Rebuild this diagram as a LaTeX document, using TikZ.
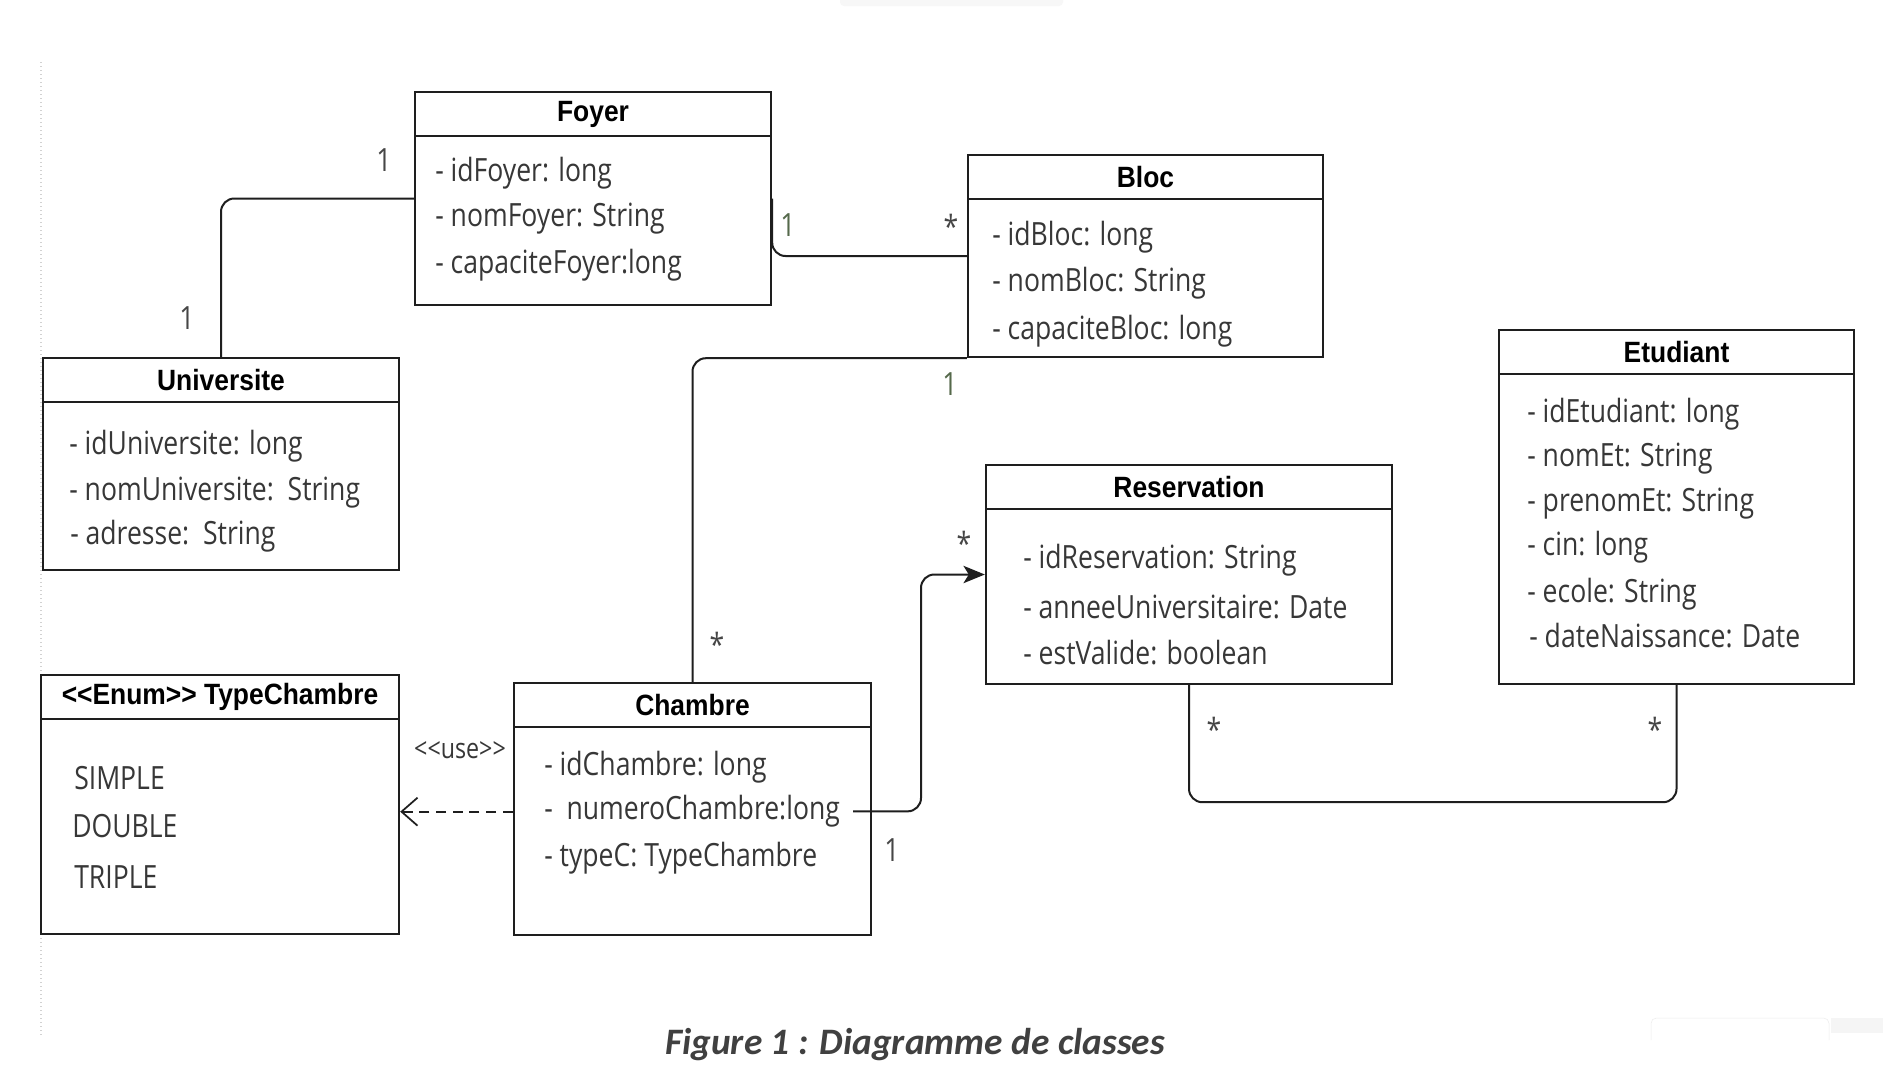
\documentclass[tikz,border=0pt]{standalone}
\usepackage{fontspec}
\usetikzlibrary{arrows.meta}
\newfontfamily\attrfont[FakeStretch=0.83]{Open Sans}
\newfontfamily\titlefont[FakeStretch=0.9]{Liberation Sans}
\newfontfamily\capfont{Carlito}
\definecolor{linecol}{RGB}{30,30,30}
\definecolor{attrcol}{RGB}{55,55,55}
\definecolor{multcol}{RGB}{70,70,70}
\definecolor{multgreen}{RGB}{85,105,75}
\definecolor{capcol}{RGB}{64,64,64}
\tikzset{
  classbox/.style={draw=linecol, line width=1.8pt, fill=white, inner sep=0pt},
  classhead/.style={draw=linecol, line width=1.8pt, inner sep=0pt, anchor=north, minimum height=33pt,
    font=\titlefont\bfseries\fontsize{22pt}{24pt}\selectfont},
  attr/.style={anchor=west, inner sep=0.75pt, yshift=-2.5pt, text=attrcol, font=\attrfont\fontsize{24pt}{26pt}\selectfont},
  mult/.style={inner sep=0.75pt, text=multcol, font=\attrfont\fontsize{24pt}{26pt}\selectfont},
  assoc/.style={draw=linecol, line width=1.5pt, rounded corners=10pt},
}
\begin{document}
\begin{tikzpicture}[x=0.75pt,y=0.75pt,yscale=-1,xscale=1]
\useasboundingbox (0,0) rectangle (1883,1072);
\fill[white] (0,0) rectangle (1883,1072);

%screen artefacts
\draw[gray!35, dotted, line width=1pt] (41,62) -- (41,1035);
\fill[gray!6, rounded corners=3pt] (840,-6) rectangle (1063,6);
\draw[gray!15, rounded corners=4pt] (1651,1040) -- (1651,1018) -- (1829,1018) -- (1829,1040);
\fill[gray!8] (1831,1018) rectangle (1883,1033);

%Class: Foyer
\node[classbox, minimum width=267pt, minimum height=159.75pt] (foyer) at (593,198.5) {};
\node[classhead, minimum width=267pt] (foyer-h) at (foyer.north) {Foyer};
\node[attr] (foyer-a1) at (434,170) {- idFoyer: long};
\node[attr] (foyer-a2) at (434,215) {- nomFoyer: String};
\node[attr] (foyer-a3) at (434,262) {- capaciteFoyer:long};

%Class: Bloc
\node[classbox, minimum width=266.25pt, minimum height=151.5pt] (bloc) at (1145.5,256) {};
\node[classhead, minimum width=266.25pt] (bloc-h) at (bloc.north) {Bloc};
\node[attr] (bloc-a1) at (991,234) {- idBloc: long};
\node[attr] (bloc-a2) at (991,280) {- nomBloc: String};
\node[attr] (bloc-a3) at (991,328) {- capaciteBloc: long};

%Class: Universite
\node[classbox, minimum width=267pt, minimum height=159pt] (univ) at (221,464) {};
\node[classhead, minimum width=267pt] (univ-h) at (univ.north) {Universite};
\node[attr] (univ-a1) at (68,443) {- idUniversite: long};
\node[attr] (univ-a2) at (68,489) {- nomUniversite:\ \ String};
\node[attr] (univ-a3) at (69,533) {- adresse:\ \ String};

%Class: Etudiant
\node[classbox, minimum width=266.25pt, minimum height=265.5pt] (etud) at (1676.5,507) {};
\node[classhead, minimum width=266.25pt] (etud-h) at (etud.north) {Etudiant};
\node[attr] (etud-a1) at (1526,411) {- idEtudiant: long};
\node[attr] (etud-a2) at (1526,455) {- nomEt: String};
\node[attr] (etud-a3) at (1526,500) {- prenomEt: String};
\node[attr] (etud-a4) at (1526,544) {- cin: long};
\node[attr] (etud-a5) at (1526,591) {- ecole: String};
\node[attr] (etud-a6) at (1528,632) {- dateNaissance: Date};

%Class: Reservation
\node[classbox, minimum width=304.5pt, minimum height=164.25pt] (resa) at (1189,574.5) {};
\node[classhead, minimum width=304.5pt] (resa-h) at (resa.north) {Reservation};
\node[attr] (resa-a1) at (1022,557) {- idReservation: String};
\node[attr] (resa-a2) at (1022,604) {- anneeUniversitaire: Date};
\node[attr] (resa-a3) at (1022,649) {- estValide: boolean};

%Enum: TypeChambre
\node[classbox, minimum width=268.5pt, minimum height=194.25pt] (typech) at (220,804.5) {};
\node[classhead, minimum width=268.5pt] (typech-h) at (typech.north) {{<}{<}Enum{>}{>} TypeChambre};
\node[attr] (typech-v1) at (73,775) {SIMPLE};
\node[attr] (typech-v2) at (71,823) {DOUBLE};
\node[attr] (typech-v3) at (73,874) {TRIPLE};

%Class: Chambre
\node[classbox, minimum width=267.75pt, minimum height=189pt] (chambre) at (692.5,809) {};
\node[classhead, minimum width=267.75pt] (chambre-h) at (chambre.north) {Chambre};
\node[attr] (chambre-a1) at (543,764) {- idChambre: long};
\node[attr] (chambre-a2) at (543,808) {-\ \ numeroChambre:long};
\node[attr] (chambre-a3) at (543,855) {- typeC: TypeChambre};

%Associations
\draw[assoc] (foyer.west) -| (univ.north);
\draw[assoc] (foyer.east) |- (bloc.west);
\draw[assoc] (bloc.south west) -| (chambre.north);
\draw[assoc, -{Stealth[length=16pt,width=13pt,inset=4pt]}] ([xshift=9pt]chambre-a2.east) -| (921,690) |- (resa.west);
\draw[assoc] (resa.south) -- ++(0,117) -| (etud.south);
\draw[draw=linecol, line width=1.3pt, dash pattern=on 7.5pt off 5pt, -{Straight Barb[length=12pt,width=21pt]}] ([yshift=2pt]chambre.west) -- ([yshift=2pt]chambre.west -| typech.east);

%Multiplicities
\node[mult] (m-fu1) at (384,160) {1};
\node[mult] (m-fu2) at (187,318) {1};
\node[mult, text=multgreen] (m-fb1) at (788,225) {1};
\node[mult] (m-fb2) at (951,226) {*};
\node[mult, text=multgreen] (m-bc1) at (950,384) {1};
\node[mult] (m-bc2) at (717,644) {*};
\node[mult] (m-cr1) at (964,543) {*};
\node[mult] (m-cr2) at (892,850) {1};
\node[mult] (m-re1) at (1214,729) {*};
\node[mult] (m-re2) at (1655,729) {*};
\node[inner sep=0.75pt, text=attrcol, font=\attrfont\fontsize{21pt}{23pt}\selectfont] (use) at (460,750) {{<}{<}use{>}{>}};

%Caption
\node[text=capcol, font=\capfont\bfseries\itshape\fontsize{28pt}{31pt}\selectfont] (caption) at (915,1045) {Figure 1 : Diagramme de classes};
\end{tikzpicture}
\end{document}
